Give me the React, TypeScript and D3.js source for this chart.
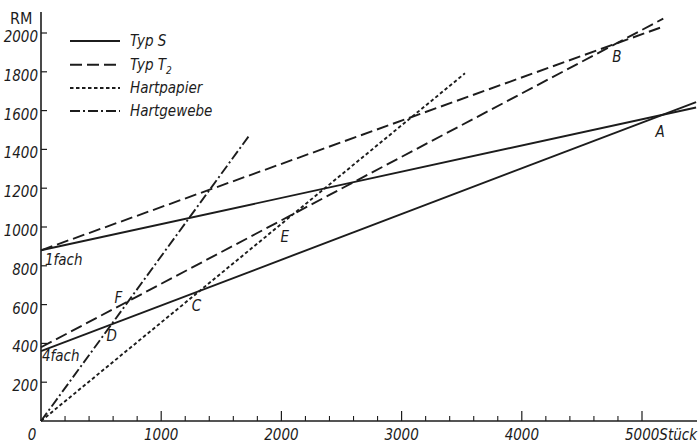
import React from 'react';
import * as d3 from 'd3';

const W = 699;
const H = 446;

// axis ticks
const xMajorTicks = [1000, 2000, 3000, 4000, 5000];
const xMinorTicks = [200, 400, 600, 800, 1200, 1400, 1600, 1800, 2200, 2400, 2600, 2800, 3200, 3400, 3600, 3800, 4200, 4400, 4600, 4800];
const yTicks = [200, 400, 600, 800, 1000, 1200, 1400, 1600, 1800, 2000];

// series (Stück, RM) – straight cost lines
const typS1fach = [[0, 880], [5450, 1616]];
const typS4fach = [[0, 360], [5450, 1644]];
const typT1fach = [[0, 880], [5150, 2027]];
const typT4fach = [[0, 380], [5177, 2074]];
const hartpapier = [[0, 0], [3527, 1792]];
const hartgewebe = [[0, 0], [1740, 1478]];

const legendNames = ['Typ S', 'Typ T', 'Hartpapier', 'Hartgewebe'];

const FONT = "'DejaVu Sans Condensed', 'Liberation Sans Narrow', sans-serif";
const INK = '#1c1c1c';

function intersect(a: number[][], b: number[][]) {
  const s1 = (a[1][1] - a[0][1]) / (a[1][0] - a[0][0]);
  const s2 = (b[1][1] - b[0][1]) / (b[1][0] - b[0][0]);
  const c1 = a[0][1] - s1 * a[0][0];
  const c2 = b[0][1] - s2 * b[0][0];
  const x = (c2 - c1) / (s1 - s2);
  return [x, c1 + s1 * x];
}

export default function App() {
  const x = d3.scaleLinear().domain([0, 5000]).range([41, 642]);
  const y = d3.scaleLinear().domain([0, 2000]).range([421, 33]);
  const line = d3.line<number[]>().x(d => x(d[0])).y(d => y(d[1]));

  const styles = {
    S: { dash: undefined as string | undefined },
    T: { dash: '12 5' },
    P: { dash: '3.5 2.5' },
    G: { dash: '10 3 2 3' },
  };

  const series = [
    { d: typS1fach, dash: styles.S.dash },
    { d: typS4fach, dash: styles.S.dash },
    { d: typT1fach, dash: styles.T.dash },
    { d: typT4fach, dash: styles.T.dash },
    { d: hartpapier, dash: styles.P.dash },
    { d: hartgewebe, dash: styles.G.dash },
  ];

  const pts: { t: string; p: number[]; dx: number; dy: number }[] = [
    { t: 'A', p: intersect(typS1fach, typS4fach), dx: -7, dy: 22 },
    { t: 'B', p: intersect(typT1fach, typT4fach), dx: -4, dy: 18 },
    { t: 'C', p: intersect(typS4fach, hartpapier), dx: -8, dy: 20 },
    { t: 'D', p: intersect(typS4fach, hartgewebe), dx: -5, dy: 17 },
    { t: 'E', p: intersect(typT4fach, hartpapier), dx: -13, dy: 28 },
    { t: 'F', p: intersect(typT4fach, hartgewebe), dx: -14, dy: 2 },
  ];

  const legendDash = [styles.S.dash, styles.T.dash, styles.P.dash, styles.G.dash];
  const legendY = [41, 64.7, 88, 111];

  return (
    <svg width={W} height={H} style={{ position: 'absolute', left: 0, top: 0, background: '#fff' }}>
      {/* axes */}
      <line x1={x(0)} y1={y(0)} x2={x(0)} y2={12} stroke={INK} strokeWidth={1.6} />
      <line x1={x(0)} y1={y(0)} x2={697} y2={y(0)} stroke={INK} strokeWidth={1.6} />
      {yTicks.map(t => (
        <g key={'y' + t}>
          <line x1={x(0)} x2={x(0) + 6} y1={y(t)} y2={y(t)} stroke={INK} strokeWidth={1.2} />
          <text x={38} y={y(t) + 9} textAnchor="end" fontFamily={FONT} fontStyle="italic" fontSize={15} fill={INK}>{t}</text>
        </g>
      ))}
      {xMinorTicks.map(t => (
        <line key={'xm' + t} x1={x(t)} x2={x(t)} y1={y(0)} y2={y(0) - 5} stroke={INK} strokeWidth={1.1} />
      ))}
      {xMajorTicks.map(t => (
        <g key={'x' + t}>
          <line x1={x(t)} x2={x(t)} y1={y(0)} y2={y(0) - 10} stroke={INK} strokeWidth={1.2} />
          <text x={x(t)} y={440} textAnchor={t === 5000 ? 'start' : 'middle'} dx={t === 5000 ? -17 : 0} fontFamily={FONT} fontStyle="italic" fontSize={15} fill={INK}>
            {t}{t === 5000 ? 'Stück' : ''}
          </text>
        </g>
      ))}
      <text x={32} y={440} textAnchor="middle" fontFamily={FONT} fontStyle="italic" fontSize={15} fill={INK}>0</text>
      <text x={10} y={24} fontFamily={FONT} fontSize={16} fill={INK}>RM</text>

      {/* series */}
      {series.map((s, i) => (
        <path key={i} d={line(s.d) || ''} fill="none" stroke={INK} strokeWidth={1.9} strokeDasharray={s.dash} />
      ))}

      {/* point labels */}
      {pts.map(p => (
        <text key={p.t} x={x(p.p[0]) + p.dx} y={y(p.p[1]) + p.dy} fontFamily={FONT} fontStyle="italic" fontSize={15} fill={INK}>{p.t}</text>
      ))}
      <text x={45} y={265} fontFamily={FONT} fontStyle="italic" fontSize={15} fill={INK}>1fach</text>
      <text x={42} y={361} fontFamily={FONT} fontStyle="italic" fontSize={15} fill={INK}>4fach</text>

      {/* legend */}
      {legendNames.map((n, i) => (
        <g key={n}>
          <line x1={70} x2={120} y1={legendY[i]} y2={legendY[i]} stroke={INK} strokeWidth={1.9} strokeDasharray={legendDash[i]} />
          <text x={130} y={legendY[i] + 5} fontFamily={FONT} fontStyle="italic" fontSize={15} fill={INK}>
            {n}
            {i === 1 ? <tspan fontSize={10} dy={4}>2</tspan> : null}
          </text>
        </g>
      ))}
    </svg>
  );
}
